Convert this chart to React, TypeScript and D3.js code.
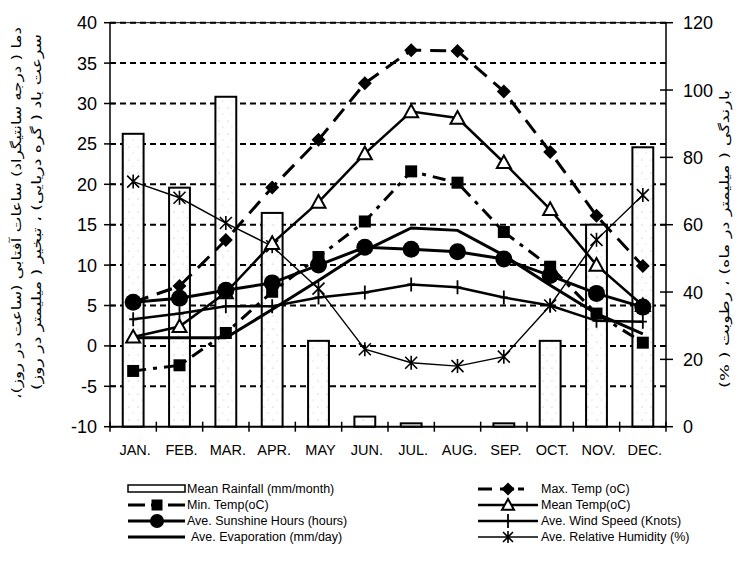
import React from 'react';
import * as d3 from 'd3';

const months = ['JAN.', 'FEB.', 'MAR.', 'APR.', 'MAY', 'JUN.', 'JUL.', 'AUG.', 'SEP.', 'OCT.', 'NOV.', 'DEC.'];
const rainfall = [87, 71, 98, 63.5, 25.5, 3, 1, 0, 1, 25.5, 60, 83];
const humidity = [72.8, 68, 60.5, 53.6, 41, 23, 19, 18, 20.8, 36, 55.5, 68.8];
const maxTemp = [5.4, 7.4, 13.1, 19.6, 25.5, 32.5, 36.6, 36.5, 31.5, 24.0, 16.1, 9.9];
const minTemp = [-3.1, -2.4, 1.6, 6.7, 11, 15.4, 21.6, 20.2, 14.1, 9.8, 4.0, 0.4];
const meanTemp = [1.1, 2.4, 6.6, 12.7, 17.8, 23.8, 29.0, 28.2, 22.7, 16.9, 10.0, 5.0];
const sunshine = [5.4, 5.9, 6.9, 7.8, 10.0, 12.2, 11.95, 11.65, 10.75, 8.7, 6.5, 4.8];
const evaporation = [1.0, 1.0, 1.0, 4.5, 8.1, 11.8, 14.6, 14.3, 11.2, 7.5, 4.0, 1.5];
const wind = [3.3, 4.0, 4.9, 4.9, 6.0, 6.6, 7.6, 7.25, 6.0, 5.0, 3.1, 3.0];
const leftTicks = [-10, -5, 0, 5, 10, 15, 20, 25, 30, 35, 40];
const rightTicks = [0, 20, 40, 60, 80, 100, 120];

const leftTitle1 = 'دما ( درجه سانتیگراد) ساعات آفتابی (ساعت در روز)،';
const leftTitle2 = 'سرعت باد ( گره دریایی) ، تبخیر ( میلیمتر در روز)';
const rightTitle = 'بارندگی ( میلیمتر در ماه) ، رطوبت ( %)';

const FONT = 'Liberation Sans, Arial, sans-serif';
const FA = 'DejaVu Sans, sans-serif';

const Diamond = ({ x, y, s = 7 }: any) => (
  <path d={`M${x},${y - s}L${x + s},${y}L${x},${y + s}L${x - s},${y}Z`} fill="#000" />
);
const Square = ({ x, y, s = 6 }: any) => <rect x={x - s} y={y - s} width={2 * s} height={2 * s} fill="#000" />;
const Circle = ({ x, y, r = 8.5 }: any) => <circle cx={x} cy={y} r={r} fill="#000" />;
const Tri = ({ x, y, s = 7 }: any) => (
  <path d={`M${x},${y - s}L${x + s},${y + s * 0.8}L${x - s},${y + s * 0.8}Z`} fill="#fff" stroke="#000" strokeWidth={2} />
);
const Plus = ({ x, y }: any) => (
  <path d={`M${x},${y - 7}V${y + 7}M${x - 4},${y}H${x + 4}`} stroke="#000" strokeWidth={1.8} />
);
const Star = ({ x, y, s = 6 }: any) => (
  <path d={`M${x - s},${y - s}L${x + s},${y + s}M${x - s},${y + s}L${x + s},${y - s}M${x},${y - s - 1}V${y + s + 1}`} stroke="#000" strokeWidth={1.6} />
);

export default function App() {
  const W = 742, H = 573;
  const left = 110, right = 666, top = 22.7, bottom = 426.7;
  const x = d3.scaleBand<string>().domain(months).range([left, right]);
  const bw = x.bandwidth();
  const cx = (i: number) => (x(months[i]) as number) + bw / 2;
  const yL = d3.scaleLinear().domain([-10, 40]).range([bottom, top]);
  const yR = d3.scaleLinear().domain([0, 120]).range([bottom, top]);
  const lineL = d3.line<number>().x((d, i) => cx(i)).y((d) => yL(d));
  const lineR = d3.line<number>().x((d, i) => cx(i)).y((d) => yR(d));
  const barW = bw * 0.45;

  const lx0 = 128, lx1 = 185, rx0 = 478, rx1 = 538;
  const rows = [489, 505, 521, 537];

  return (
    <svg width={W} height={H} style={{ position: 'absolute', left: 0, top: 0, background: '#fff' }} fontFamily={FONT}>
      <defs>
        <pattern id="stip" width="9" height="13" patternUnits="userSpaceOnUse">
          <rect width="9" height="13" fill="#fff" />
          <circle cx="3" cy="4" r="0.6" fill="#aaa" />
          <circle cx="7" cy="10" r="0.5" fill="#bbb" />
        </pattern>
      </defs>
      <rect width={W} height={H} fill="#fff" />
      {/* gridlines */}
      {leftTicks.filter((t) => t > -10).map((t) => (
        <line key={'g' + t} x1={left} x2={right} y1={yL(t)} y2={yL(t)} stroke="#000" strokeWidth={2} strokeDasharray="6,4" />
      ))}
      <line x1={left} x2={right} y1={top} y2={top} stroke="#000" strokeWidth={1} />
      {/* bars */}
      {rainfall.map((v, i) => v > 0 ? (
        <rect key={'b' + i} x={cx(i) - barW / 2} y={yR(v)} width={barW} height={yR(0) - yR(v)} fill="url(#stip)" stroke="#000" strokeWidth={2} />
      ) : null)}
      {/* axes */}
      <line x1={left} x2={left} y1={top} y2={bottom} stroke="#000" strokeWidth={1.5} />
      <line x1={right} x2={right} y1={top} y2={bottom} stroke="#000" strokeWidth={1.5} />
      <line x1={left} x2={right} y1={bottom} y2={bottom} stroke="#000" strokeWidth={2} />
      {leftTicks.map((t) => (
        <g key={'lt' + t}>
          <line x1={left - 6} x2={left + 5} y1={yL(t)} y2={yL(t)} stroke="#000" strokeWidth={1.5} />
          <text x={97} y={yL(t)} dy="0.36em" textAnchor="end" fontSize={18}>{t}</text>
        </g>
      ))}
      {rightTicks.map((t) => (
        <g key={'rt' + t}>
          <line x1={right - 6} x2={right + 7} y1={yR(t)} y2={yR(t)} stroke="#000" strokeWidth={1.5} />
          <text x={683} y={yR(t)} dy="0.36em" textAnchor="start" fontSize={18}>{t}</text>
        </g>
      ))}
      {d3.range(months.length + 1).map((i) => {
        const xx = left + i * bw;
        return <line key={'xt' + i} x1={xx} x2={xx} y1={bottom - 5} y2={bottom + 5} stroke="#000" strokeWidth={1.5} />;
      })}
      {months.map((m, i) => (
        <text key={'m' + i} x={cx(i) + 2} y={455} textAnchor="middle" fontSize={14.5}>{m}</text>
      ))}
      {/* axis titles */}
      <text transform="translate(16,213) rotate(-90)" textAnchor="middle" fontFamily={FA} fontSize={13} direction="rtl" textLength={372} lengthAdjust="spacingAndGlyphs" dy="0.35em">{leftTitle1}</text>
      <text transform="translate(36,212) rotate(-90)" textAnchor="middle" fontFamily={FA} fontSize={13} direction="rtl" textLength={356} lengthAdjust="spacingAndGlyphs" dy="0.35em">{leftTitle2}</text>
      <text transform="translate(724,239) rotate(-90)" textAnchor="middle" fontFamily={FA} fontSize={13} direction="rtl" textLength={298} lengthAdjust="spacingAndGlyphs" dy="0.35em">{rightTitle}</text>

      {/* series lines */}
      <path d={lineR(humidity) || ''} fill="none" stroke="#000" strokeWidth={1.4} />
      <path d={lineL(evaporation) || ''} fill="none" stroke="#000" strokeWidth={3} />
      <path d={lineL(wind) || ''} fill="none" stroke="#000" strokeWidth={2.5} />
      <path d={lineL(sunshine) || ''} fill="none" stroke="#000" strokeWidth={3} />
      <path d={lineL(meanTemp) || ''} fill="none" stroke="#000" strokeWidth={2.5} />
      <path d={lineL(minTemp) || ''} fill="none" stroke="#000" strokeWidth={3} strokeDasharray="13,7,4,7" />
      <path d={lineL(maxTemp) || ''} fill="none" stroke="#000" strokeWidth={3} strokeDasharray="16,9" />
      {/* markers */}
      {humidity.map((v, i) => <Star key={'hs' + i} x={cx(i)} y={yR(v)} />)}
      {wind.map((v, i) => <Plus key={'wp' + i} x={cx(i)} y={yL(v)} />)}
      {meanTemp.map((v, i) => <Tri key={'mt' + i} x={cx(i)} y={yL(v)} />)}
      {minTemp.map((v, i) => <Square key={'mn' + i} x={cx(i)} y={yL(v)} />)}
      {maxTemp.map((v, i) => <Diamond key={'mx' + i} x={cx(i)} y={yL(v)} />)}
      {sunshine.map((v, i) => <Circle key={'su' + i} x={cx(i)} y={yL(v)} />)}

      {/* legend left */}
      <rect x={lx0} y={rows[0] - 4} width={lx1 - lx0} height={7} fill="#fff" stroke="#000" strokeWidth={1.5} />
      <text x={187} y={rows[0]} dy="0.35em" fontSize={12.5}>Mean Rainfall (mm/month)</text>
      <line x1={lx0} x2={lx1} y1={rows[1]} y2={rows[1]} stroke="#000" strokeWidth={3} strokeDasharray="17,6,11,6,17" />
      <Square x={157} y={rows[1]} s={5.5} />
      <text x={187} y={rows[1]} dy="0.35em" fontSize={12.5}>Min. Temp(oC)</text>
      <line x1={lx0} x2={lx1} y1={rows[2]} y2={rows[2]} stroke="#000" strokeWidth={3} />
      <Circle x={157} y={rows[2]} r={7} />
      <text x={187} y={rows[2]} dy="0.35em" fontSize={12.5}>Ave. Sunshine Hours (hours)</text>
      <line x1={lx0} x2={lx1} y1={rows[3]} y2={rows[3]} stroke="#000" strokeWidth={3} />
      <text x={191} y={rows[3]} dy="0.35em" fontSize={12.5}>Ave. Evaporation (mm/day)</text>
      {/* legend right */}
      <line x1={rx0} x2={rx1} y1={rows[0]} y2={rows[0]} stroke="#000" strokeWidth={3} strokeDasharray="14,8,0,0,14,4,6" />
      <Diamond x={508} y={rows[0]} s={6.5} />
      <text x={541} y={rows[0]} dy="0.35em" fontSize={12.5}>Max. Temp (oC)</text>
      <line x1={rx0} x2={rx1} y1={rows[1]} y2={rows[1]} stroke="#000" strokeWidth={2.5} />
      <Tri x={508} y={rows[1]} s={6} />
      <text x={541} y={rows[1]} dy="0.35em" fontSize={12.5}>Mean Temp(oC)</text>
      <line x1={rx0} x2={rx1} y1={rows[2]} y2={rows[2]} stroke="#000" strokeWidth={2.5} />
      <Plus x={508} y={rows[2]} />
      <text x={541} y={rows[2]} dy="0.35em" fontSize={12.5}>Ave. Wind Speed (Knots)</text>
      <line x1={rx0} x2={rx1} y1={rows[3]} y2={rows[3]} stroke="#000" strokeWidth={1.4} />
      <Star x={508} y={rows[3]} s={5} />
      <text x={541} y={rows[3]} dy="0.35em" fontSize={12.5}>Ave. Relative Humidity (%)</text>
    </svg>
  );
}
